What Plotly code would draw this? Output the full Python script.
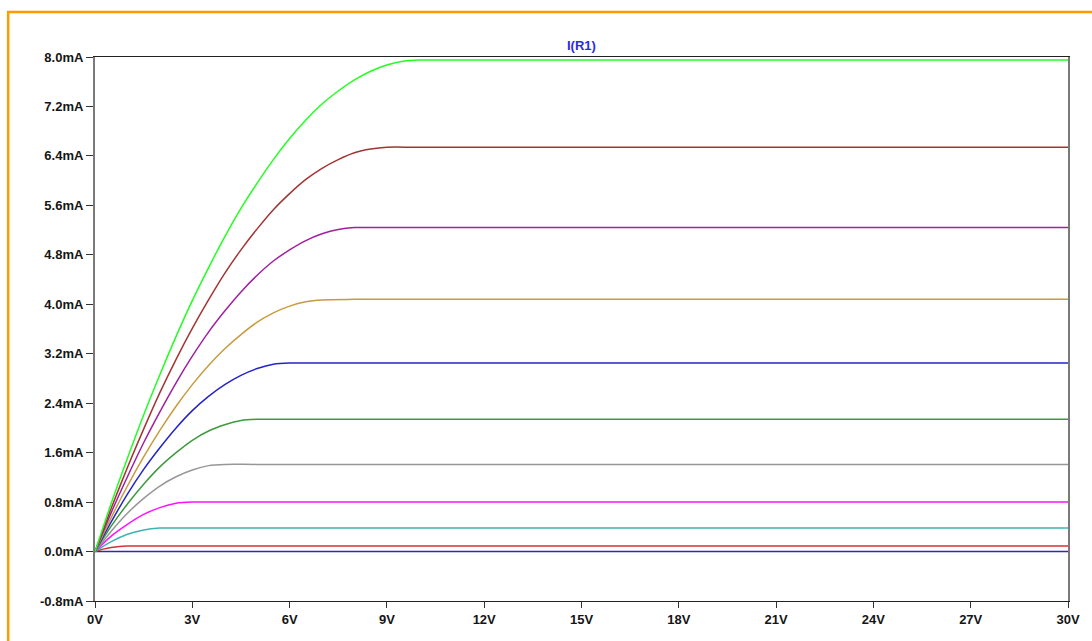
import plotly.graph_objects as go

# ---- data ----
v_green  = [0, 0.5, 1, 1.5, 2, 2.5, 3, 3.5, 4, 4.5, 5, 5.5, 6, 6.5, 7, 7.5, 8, 8.5, 9, 9.5, 10, 11, 30]
i_green  = [0, 0.78, 1.51, 2.21, 2.86, 3.48, 4.06, 4.59, 5.09, 5.55, 5.96, 6.34, 6.68, 6.98, 7.24, 7.45, 7.63, 7.77, 7.87, 7.93, 7.95, 7.95, 7.95]

v_brown  = [0, 0.5, 1, 1.5, 2, 2.5, 3, 3.5, 4, 4.5, 5, 5.5, 6, 6.5, 7, 7.5, 8, 8.5, 9, 10, 30]
i_brown  = [0, 0.70, 1.36, 1.98, 2.57, 3.11, 3.61, 4.07, 4.50, 4.88, 5.22, 5.53, 5.79, 6.02, 6.20, 6.34, 6.45, 6.51, 6.54, 6.54, 6.54]

v_purple = [0, 0.5, 1, 1.5, 2, 2.5, 3, 3.5, 4, 4.5, 5, 5.5, 6, 6.5, 7, 7.5, 8, 9, 30]
i_purple = [0, 0.63, 1.21, 1.76, 2.26, 2.73, 3.16, 3.55, 3.89, 4.20, 4.47, 4.70, 4.88, 5.03, 5.14, 5.21, 5.24, 5.24, 5.24]

v_gold   = [0, 0.5, 1, 1.5, 2, 2.5, 3, 3.5, 4, 4.5, 5, 5.5, 6, 6.5, 7, 8, 30]
i_gold   = [0, 0.55, 1.06, 1.53, 1.96, 2.35, 2.70, 3.01, 3.28, 3.51, 3.71, 3.86, 3.97, 4.04, 4.07, 4.08, 4.08]

v_blue   = [0, 0.5, 1, 1.5, 2, 2.5, 3, 3.5, 4, 4.5, 5, 5.5, 6, 7, 30]
i_blue   = [0, 0.48, 0.93, 1.33, 1.68, 2.00, 2.28, 2.51, 2.70, 2.85, 2.96, 3.03, 3.05, 3.05, 3.05]

v_dgreen = [0, 0.5, 1, 1.5, 2, 2.5, 3, 3.5, 4, 4.5, 5, 6, 30]
i_dgreen = [0, 0.41, 0.77, 1.09, 1.37, 1.60, 1.80, 1.95, 2.05, 2.12, 2.14, 2.14, 2.14]

v_gray   = [0, 0.5, 1, 1.5, 2, 2.5, 3, 3.5, 4, 5, 30]
i_gray   = [0, 0.33, 0.62, 0.86, 1.06, 1.21, 1.32, 1.39, 1.41, 1.41, 1.41]

v_magenta = [0, 0.5, 1, 1.5, 2, 2.5, 3, 4, 30]
i_magenta = [0, 0.25, 0.44, 0.60, 0.71, 0.78, 0.80, 0.80, 0.80]

v_teal   = [0, 0.5, 1, 1.5, 2, 3, 30]
i_teal   = [0, 0.16, 0.28, 0.35, 0.38, 0.38, 0.38]

v_red    = [0, 0.25, 0.5, 0.75, 1, 2, 30]
i_red    = [0, 0.039, 0.067, 0.083, 0.089, 0.089, 0.089]

v_navy   = [0, 30]
i_navy   = [0, 0]

x_tickvals = [0, 3, 6, 9, 12, 15, 18, 21, 24, 27, 30]
x_ticktext = ["0V", "3V", "6V", "9V", "12V", "15V", "18V", "21V", "24V", "27V", "30V"]
y_tickvals = [-0.8, 0.0, 0.8, 1.6, 2.4, 3.2, 4.0, 4.8, 5.6, 6.4, 7.2, 8.0]
y_ticktext = ["-0.8mA", "0.0mA", "0.8mA", "1.6mA", "2.4mA", "3.2mA", "4.0mA",
              "4.8mA", "5.6mA", "6.4mA", "7.2mA", "8.0mA"]

series = [
    (v_navy, i_navy, "#2a2ab4"),
    (v_red, i_red, "#d03434"),
    (v_teal, i_teal, "#3cb4b4"),
    (v_magenta, i_magenta, "#ff10ff"),
    (v_gray, i_gray, "#979797"),
    (v_dgreen, i_dgreen, "#3c9b3c"),
    (v_blue, i_blue, "#2424c8"),
    (v_gold, i_gold, "#c89b3c"),
    (v_purple, i_purple, "#a020a0"),
    (v_brown, i_brown, "#a33434"),
    (v_green, i_green, "#22ff22"),
]

fig = go.Figure()
for xs, ys, col in series:
    fig.add_trace(go.Scatter(x=xs, y=ys, mode="lines",
                             line=dict(color=col, width=1.5, shape="spline", smoothing=0.8),
                             showlegend=False, hoverinfo="skip"))

tickfont = dict(family="Liberation Sans, Arial, sans-serif", size=13, color="#151515", weight="bold")

fig.update_layout(
    width=1092, height=641,
    margin=dict(l=95, r=22, t=57, b=40),
    paper_bgcolor="white", plot_bgcolor="white",
    showlegend=False,
    xaxis=dict(range=[0, 30], tickvals=x_tickvals, ticktext=x_ticktext,
               showgrid=False, zeroline=False,
               showline=True, linecolor="#222222", linewidth=1, mirror=True,
               ticks="outside", ticklen=6, tickcolor="#333333", tickwidth=1,
               tickfont=tickfont),
    yaxis=dict(range=[-0.8, 8.0], tickvals=y_tickvals, ticktext=y_ticktext,
               showgrid=False, zeroline=False,
               showline=True, linecolor="#7a7a7a", linewidth=2, mirror=True,
               ticks="outside", ticklen=7, tickcolor="#333333", tickwidth=1,
               tickfont=tickfont),
    annotations=[dict(text="I(R1)", x=0.5, y=1.0, xref="paper", yref="paper",
                      xanchor="center", yanchor="bottom", yshift=2, showarrow=False,
                      font=dict(family="Liberation Sans, Arial, sans-serif", size=13,
                                color="#2a2aee", weight="bold"))],
)

# orange window frame (top and left edges)
plot_w = 1092 - 95 - 22
plot_h = 641 - 57 - 40
def px_to_paper_x(px):
    return (px - 95) / plot_w
def px_to_paper_y(py):
    return (641 - 40 - py) / plot_h

fig.add_shape(type="path", xref="paper", yref="paper",
              path="M {x0},{y0} L {x0},{y1} L {x1},{y1}".format(
                  x0=px_to_paper_x(8), y0=px_to_paper_y(645),
                  y1=px_to_paper_y(12), x1=px_to_paper_x(1096)),
              line=dict(color="#ff9a00", width=2.5), layer="above")

fig.write_html("out.html")
